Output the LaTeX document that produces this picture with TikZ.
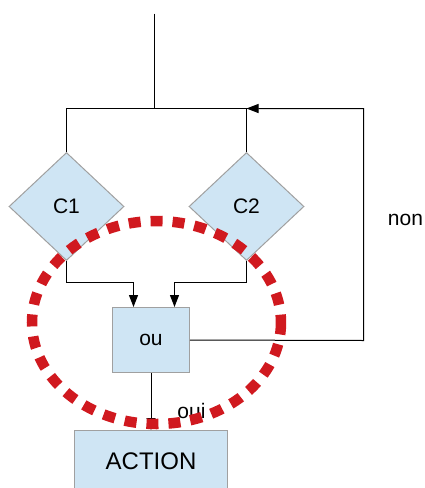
\documentclass[tikz,border=0pt]{standalone}
\usepackage{fontspec}
\setmainfont{Liberation Sans}
\usetikzlibrary{shapes.geometric,arrows.meta,calc}
\definecolor{boxfill}{HTML}{CFE5F4}
\definecolor{boxline}{HTML}{A0A0A0}
\definecolor{redc}{HTML}{D0191F}
\tikzset{
  conn/.style={draw=black, line width=1pt},
  arr/.style={conn, -{Triangle[length=12pt,width=9pt]}},
  rbox/.style={draw=boxline, fill=boxfill, line width=1pt, inner sep=0pt},
  cond/.style={diamond, draw=boxline, fill=boxfill, line width=1pt, inner sep=0pt, minimum width=115pt, minimum height=108pt, font=\fontsize{21}{24}\selectfont},
  lbl/.style={font=\fontsize{21}{24}\selectfont, inner sep=0pt}
}
\begin{document}
\begin{tikzpicture}[x=1pt,y=-1pt]
\useasboundingbox (0,0) rectangle (424,488);
\clip (0,0) rectangle (424,488);
\begin{scope}[shift={(0.5,0.5)}]
% nodes
\node[cond] (c1) at (66,206) {C1};
\node[cond] (c2) at (246,206) {C2};
\node[rbox, minimum width=77pt, minimum height=65pt, font=\fontsize{21}{24}\selectfont] (ou) at (150.5,339.5) {ou};
\node[rbox, minimum width=153pt, minimum height=62pt, font=\fontsize{24}{28}\selectfont] (action) at (150.5,461) {ACTION};
\coordinate (top) at (154,13);
\coordinate (split) at (154,108);
\coordinate (loopr) at (363,340);
\coordinate (loopt) at (363,108);
\coordinate (in1) at (133,282);
\coordinate (in2) at (174,282);
% connectors
\draw[conn] (top) -- (split);
\draw[conn] (c1.north) -- (c1.north |- split) -- (c2.north |- split) -- (c2.north);
\draw[arr] (c1.south) -- (c1.south |- in1) -- (in1) -- (in1 |- ou.north);
\draw[arr] (c2.south) -- (c2.south |- in2) -- (in2) -- (in2 |- ou.north);
\draw[arr] (ou.east) -- (loopr) -- (loopt) -- (c2.north |- split);
\draw[arr] (ou.south) -- (ou.south |- action.north);
% labels
\node[lbl] (non) at (405,219) {non};
\node[lbl] (oui) at (191,410) {oui};
\end{scope}
% red dashed ellipse
\draw[redc, line width=10.5pt, dash pattern=on 12pt off 10pt] (156.5,322.5) ellipse [x radius=124.5, y radius=101.5];
\end{tikzpicture}
\end{document}
